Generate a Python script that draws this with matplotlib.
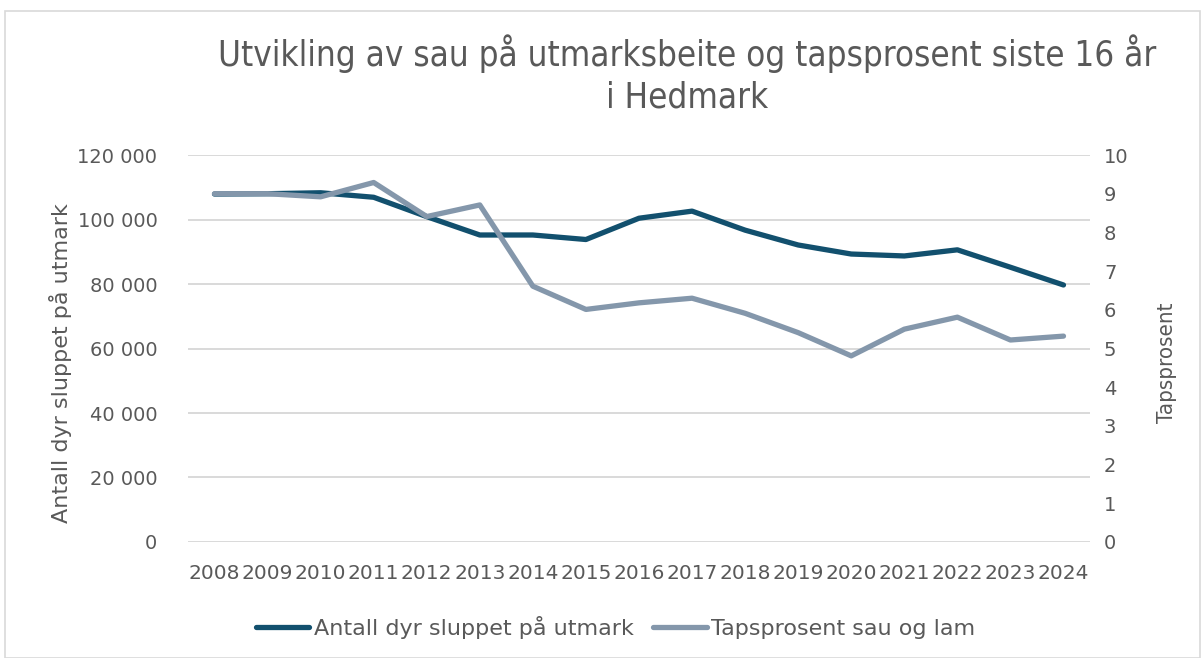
"""Utvikling av sau på utmarksbeite og tapsprosent i Hedmark."""

import matplotlib

matplotlib.use("Agg")
import matplotlib.pyplot as plt
from matplotlib.patches import Rectangle
from matplotlib.ticker import FuncFormatter

years = [str(y) for y in range(2008, 2025)]
antall_dyr = [107900, 108000, 108300, 106900, 100900, 95200, 95200, 93800, 100400,
              102600, 96700, 92100, 89300, 88700, 90600, 85200, 79700]
tapsprosent = [9.0, 9.0, 8.92, 9.29, 8.41, 8.71, 6.61, 6.01, 6.18, 6.30, 5.91, 5.41,
               4.81, 5.50, 5.81, 5.22, 5.32]

dark = "#12506E"
light = "#8497AB"
text_color = "#595959"
grid_color = "#D9D9D9"

plt.rcParams["font.family"] = ["DejaVu Sans"]

fig = plt.figure(figsize=(12.01, 6.58), dpi=100)
fig.patches.append(Rectangle((0.004, 0.0), 0.995, 0.984, transform=fig.transFigure,
                             fill=False, edgecolor="#D9D9D9", linewidth=1.2))

ax = fig.add_axes([0.1565, 0.1763, 0.7511, 0.5881])
ax2 = ax.twinx()

x = list(range(len(years)))
line1, = ax.plot(x, antall_dyr, color=dark, linewidth=3.8, solid_capstyle="round",
                 solid_joinstyle="round", label="Antall dyr sluppet på utmark", zorder=3)
line2, = ax2.plot(x, tapsprosent, color=light, linewidth=3.8, solid_capstyle="round",
                  solid_joinstyle="round", label="Tapsprosent sau og lam", zorder=3)

ax.set_xlim(-0.5, len(years) - 0.5)
ax.set_ylim(0, 120000)
ax.set_yticks(range(0, 120001, 20000))
ax.yaxis.set_major_formatter(FuncFormatter(lambda v, _: f"{int(v):,}".replace(",", " ")))
ax2.set_ylim(0, 10)
ax2.set_yticks(range(0, 11))

ax.set_xticks(x)
ax.set_xticklabels(years)
ax.grid(axis="y", color=grid_color, linewidth=1.4)
ax.set_axisbelow(True)

for a in (ax, ax2):
    for s in a.spines.values():
        s.set_visible(False)
    a.tick_params(length=0, labelsize=14, labelcolor=text_color)
ax.tick_params(axis="y", pad=22)
ax.tick_params(axis="x", pad=16, labelsize=14.5)
ax2.tick_params(axis="y", pad=10)

ax.set_ylabel("Antall dyr sluppet på utmark", fontsize=16, color=text_color)
ax2.set_ylabel("Tapsprosent", fontsize=16, fontstretch="condensed", color=text_color)
ax.yaxis.set_label_coords(-0.128, 0.4625)
ax2.yaxis.set_label_coords(1.074, 0.4625)

fig.text(0.572, 0.887, "Utvikling av sau på utmarksbeite og tapsprosent siste 16 år\ni Hedmark",
         ha="center", va="center", fontsize=25, fontstretch="condensed",
         color=text_color, linespacing=1.3)

fig.legend(handles=[line1, line2], loc="center", bbox_to_anchor=(0.5125, 0.046), ncol=2,
           frameon=False, fontsize=16, labelcolor=text_color, handlelength=2.4,
           handletextpad=0.2, columnspacing=0.9)

fig.savefig("out.png", dpi=100)
